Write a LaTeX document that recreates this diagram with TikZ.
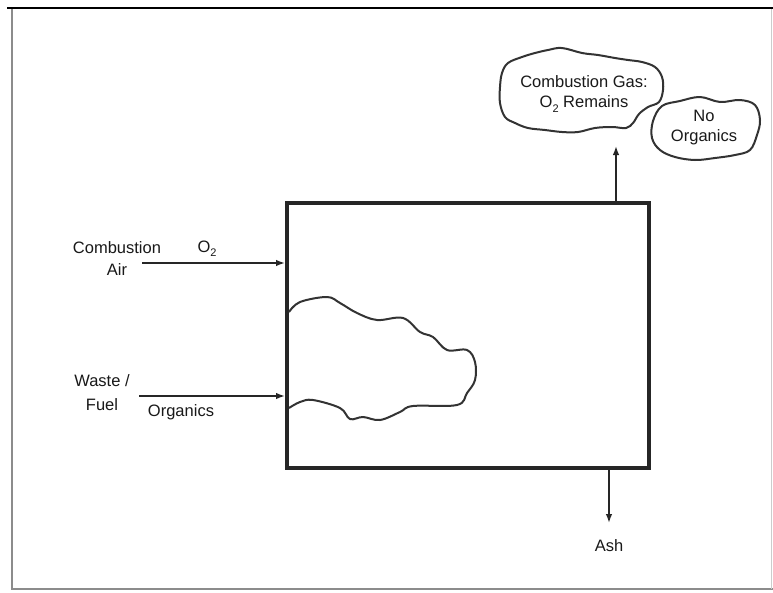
\documentclass[tikz,border=0pt]{standalone}
\usepackage{fontspec}
\setmainfont{Liberation Sans}
\usetikzlibrary{arrows.meta}
\newcommand{\osub}{\raisebox{-0.5ex}{\fontsize{11}{11}\selectfont 2}}
\begin{document}
\begin{tikzpicture}[x=1pt,y=-1pt,
  lbl/.style={font=\fontsize{16.5}{20}\selectfont, text=black!90, inner sep=0pt, align=center},
  arr/.style={line width=1.5pt, black!85, -{Latex[length=9pt,width=6.5pt]}},
  outline/.style={line width=2pt, black!80, line join=round},
  furnacebox/.style={draw=black!85, line width=4pt, minimum width=362pt, minimum height=265pt, inner sep=0pt}]
\useasboundingbox (0,0) rectangle (773,592);
\fill[white] (0,0) rectangle (773,592);
% scan frame
\draw[line width=2pt, black] (7,8) -- (773,8);
\draw[line width=2pt, black!45] (12,9) -- (12,589) -- (773,589);
\draw[line width=1pt, black!20] (771,9) -- (771,589);

% furnace
\node[furnacebox] (furnace) at (468,335.5) {};

% flame
\draw[outline] plot[smooth, tension=0.6] coordinates {(289,312) (300,302) (327,297) (340,303) (357,313) (377,320) (403,318) (420,332) (433,337) (447,350) (467,350) (475,362) (475,380) (467,393) (457,405) (413,406) (400,412) (380,420) (363,417) (350,419) (340,408) (313,400) (300,402) (289,408)};

% clouds
\draw[outline] plot[smooth cycle, tension=0.6] coordinates {(502,73) (508,63) (522,57) (535,53) (548,50) (562,48) (582,53) (598,55) (615,58) (628,60) (642,62) (655,67) (662,77) (663,90) (659,102) (648,107) (639,114) (633,123) (626,128) (612,127) (595,128) (578,132) (562,132) (545,130) (528,128) (515,123) (505,117) (500,103) (500,87)};
\draw[outline] plot[smooth cycle, tension=0.6] coordinates {(653,121) (662,106) (680,101) (700,97) (720,102) (740,100) (755,105) (760,120) (757,135) (750,150) (735,155) (715,158) (695,160) (675,157) (660,150) (652,138)};

% connectors
\coordinate (airin) at (142,263);
\coordinate (fuelin) at (139,396);
\coordinate (gasout) at (616,146);
\coordinate (ashout) at (609,523);
\draw[arr] (airin) -- (airin -| furnace.west);
\draw[arr] (fuelin) -- (fuelin -| furnace.west);
\draw[arr] (furnace.north -| gasout) -- (gasout);
\draw[arr] (furnace.south -| ashout) -- (ashout);

% labels
\node[lbl] (air) at (117,259) {Combustion\\[2pt]Air};
\node[lbl] (o2) at (207,249) {O\osub};
\node[lbl] (waste) at (102,393) {Waste /\\[4pt]Fuel};
\node[lbl] (organics) at (181,412) {Organics};
\node[lbl] (gas) at (584,94) {Combustion Gas:\\O\osub{} Remains};
\node[lbl] (noorg) at (704,128) {No\\Organics};
\node[lbl] (ash) at (609,546) {Ash};
\end{tikzpicture}
\end{document}
